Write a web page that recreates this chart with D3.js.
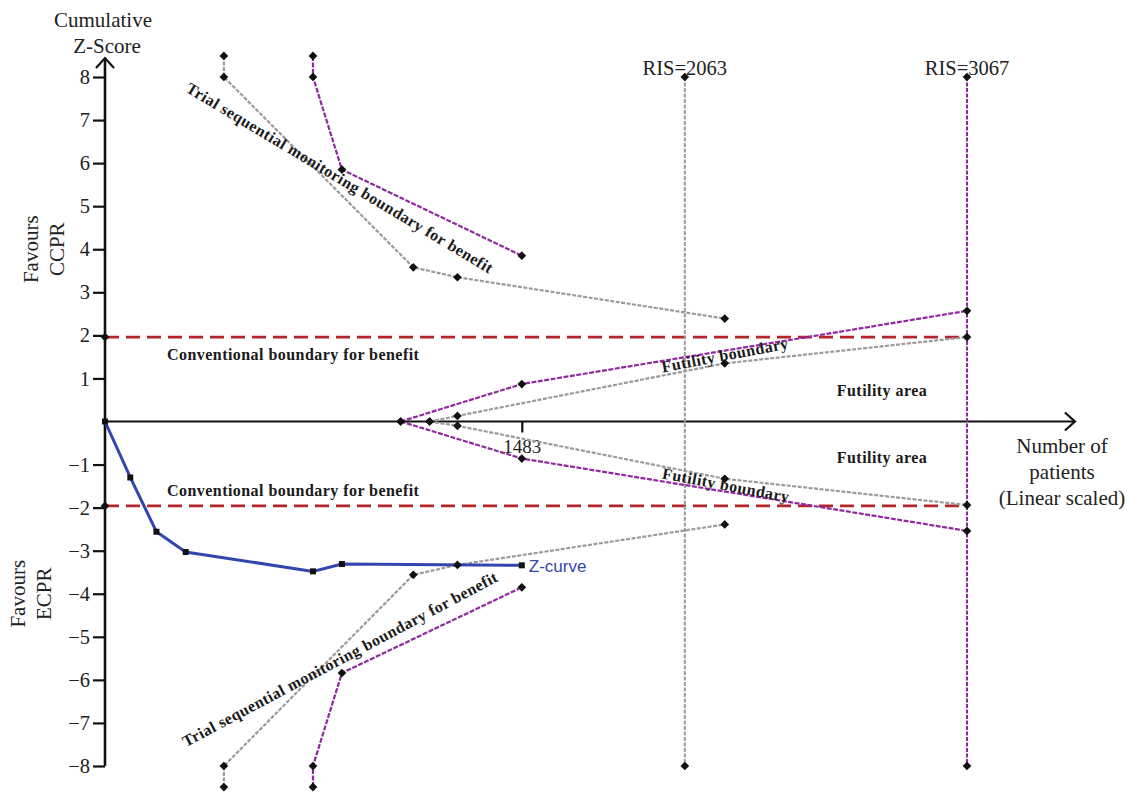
<!DOCTYPE html>
<html>
<head>
<meta charset="utf-8">
<script src="https://cdn.jsdelivr.net/npm/d3@7"></script>
<style>
  html, body { margin: 0; padding: 0; background: #fff; }
  svg { display: block; }
</style>
</head>
<body>
<svg id="chart" width="1130" height="796"></svg>
<script>
// ---------------- DATA ----------------
const yTickValues = [-8, -7, -6, -5, -4, -3, -2, -1, 1, 2, 3, 4, 5, 6, 7, 8];
const xTickValues = [1483];
const risValues = [2063, 3067];
const risLabels = ["RIS=2063", "RIS=3067"];
const conventionalZ = [1.96, -1.96];

// Z-curve [patients, z]
const zCurve = [[0, 0], [90, -1.30], [183, -2.56], [287, -3.03], [740, -3.48], [843, -3.31], [1483, -3.34]];

// Trial sequential monitoring boundaries (RIS 2063, grey)
const tsmbGreyUpper = [[423, 8.49], [423, 8.0], [1097, 3.58], [1254, 3.35], [2205, 2.39]];
const tsmbGreyLower = [[423, -8.49], [423, -8.0], [1097, -3.56], [1254, -3.33], [2205, -2.39]];
// Trial sequential monitoring boundaries (RIS 3067, purple)
const tsmbPurpleUpper = [[740, 8.49], [740, 8.0], [843, 5.85], [1483, 3.85]];
const tsmbPurpleLower = [[740, -8.49], [740, -8.0], [843, -5.84], [1483, -3.85]];

// Futility boundaries
const futPurpleUpper = [[1052, 0], [1483, 0.87], [3067, 2.57]];
const futPurpleLower = [[1052, 0], [1483, -0.86], [3067, -2.54]];
const futGreyUpper = [[1155, 0], [1254, 0.13], [2205, 1.35], [3067, 1.96]];
const futGreyLower = [[1155, 0], [1254, -0.10], [2205, -1.33], [3067, -1.94]];

// ---------------- LAYOUT ----------------
const svg = d3.select("#chart");
const x = d3.scaleLinear().domain([0, 3067]).range([105, 967]);
const y = d3.scaleLinear().domain([-8, 8]).range([766, 77]);
const xMaxArrow = 3451;
const yTopArrow = 8.44;

const GREY = "#9b9b9b";
const PURPLE = "#8f2a9e";
const RED = "#b3262a";
const BLUE = "#3346b0";
const SERIF = "'Liberation Serif', 'DejaVu Serif', serif";

// ---------------- AXES ----------------
const axisG = svg.append("g");
axisG.append("line")
  .attr("x1", x(0)).attr("x2", x(0))
  .attr("y1", y(-8)).attr("y2", y(yTopArrow))
  .attr("stroke", "#111").attr("stroke-width", 2.6);
axisG.append("line")
  .attr("x1", x(0)).attr("x2", x(xMaxArrow))
  .attr("y1", y(0)).attr("y2", y(0))
  .attr("stroke", "#111").attr("stroke-width", 2.2);
axisG.append("path")
  .attr("d", `M${x(0) - 9},${y(yTopArrow) + 10} L${x(0)},${y(yTopArrow)} L${x(0) + 9},${y(yTopArrow) + 10}`)
  .attr("fill", "none").attr("stroke", "#111").attr("stroke-width", 2.2);
axisG.append("path")
  .attr("d", `M${x(xMaxArrow) - 10},${y(0) - 9} L${x(xMaxArrow)},${y(0)} L${x(xMaxArrow) - 10},${y(0) + 9}`)
  .attr("fill", "none").attr("stroke", "#111").attr("stroke-width", 2.2);

const yAxis = d3.axisLeft(y).tickValues(yTickValues).tickSize(12).tickSizeOuter(0).tickPadding(3)
  .tickFormat(d3.format("d"));
const yAxisG = svg.append("g").attr("transform", `translate(${x(0)},0)`).call(yAxis);
yAxisG.select(".domain").remove();
yAxisG.selectAll(".tick line").attr("stroke", "#111").attr("stroke-width", 2.2);
yAxisG.selectAll(".tick text").attr("font-family", SERIF).attr("font-size", 20.5).attr("fill", "#222");

const xAxis = d3.axisBottom(x).tickValues(xTickValues).tickSize(11).tickPadding(7).tickFormat(d3.format("d"));
const xAxisG = svg.append("g").attr("transform", `translate(0,${y(0)})`).call(xAxis);
xAxisG.select(".domain").remove();
xAxisG.selectAll(".tick line").attr("stroke", "#111").attr("stroke-width", 2.2);
xAxisG.selectAll(".tick text").attr("font-family", SERIF).attr("font-size", 19).attr("fill", "#222");

const txt = (xx, yy, s, opts = {}) => svg.append("text")
  .attr("x", xx).attr("y", yy).text(s)
  .attr("font-family", opts.family || SERIF)
  .attr("font-size", opts.size || 21)
  .attr("font-weight", opts.weight || "normal")
  .attr("letter-spacing", opts.ls || 0)
  .attr("fill", opts.fill || "#222")
  .attr("text-anchor", opts.anchor || "middle")
  .attr("dominant-baseline", "central");

txt(103, 20, "Cumulative");
txt(107, 46, "Z-Score");
txt(1062, 446, "Number of");
txt(1062, 472, "patients");
txt(1062, 498, "(Linear scaled)");

function vlabel(cx, cy, s) {
  svg.append("text").attr("transform", `translate(${cx},${cy}) rotate(-90)`)
    .text(s).attr("font-family", SERIF).attr("font-size", 21).attr("fill", "#222")
    .attr("text-anchor", "middle").attr("dominant-baseline", "central");
}
vlabel(31, y(4), "Favours");
vlabel(57, y(4), "CCPR");
vlabel(18, y(-4), "Favours");
vlabel(44, y(-4), "ECPR");

// ---------------- LINES ----------------
const line = d3.line().x(d => x(d[0])).y(d => y(d[1]));
const diamond = d3.symbol().type(d3.symbolSquare).size(38);
const square = d3.symbol().type(d3.symbolSquare).size(36);

function drawLine(data, color, dash, width) {
  svg.append("path").datum(data).attr("d", line)
    .attr("fill", "none").attr("stroke", color).attr("stroke-width", width)
    .attr("stroke-dasharray", dash);
}
function drawDiamonds(data) {
  svg.append("g").selectAll("path").data(data).join("path")
    .attr("d", diamond)
    .attr("transform", d => `translate(${x(d[0])},${y(d[1])}) rotate(45)`)
    .attr("fill", "#111");
}

conventionalZ.forEach(z => {
  drawLine([[0, z], [3067, z]], RED, "14,7", 2.6);
});

drawLine([[risValues[0], 8], [risValues[0], -8]], GREY, "4,1.5", 2);
drawLine([[risValues[1], 8], [risValues[1], -8]], PURPLE, "4,1.5", 2);

[tsmbGreyUpper, tsmbGreyLower, futGreyUpper, futGreyLower].forEach(d => drawLine(d, GREY, "4,1.5", 2.2));
[tsmbPurpleUpper, tsmbPurpleLower, futPurpleUpper, futPurpleLower].forEach(d => drawLine(d, PURPLE, "5,1.5", 2.2));

drawLine(zCurve, BLUE, null, 3);

[tsmbGreyUpper, tsmbGreyLower, futGreyUpper, futGreyLower,
 tsmbPurpleUpper, tsmbPurpleLower, futPurpleUpper, futPurpleLower].forEach(drawDiamonds);
drawDiamonds(conventionalZ.map(z => [0, z]));
drawDiamonds(risValues.flatMap(r => [[r, 8], [r, -8]]));

svg.append("g").selectAll("path").data(zCurve).join("path")
  .attr("d", square)
  .attr("transform", d => `translate(${x(d[0])},${y(d[1])})`)
  .attr("fill", "#111");

risValues.forEach((r, i) => {
  txt(x(r), 68, risLabels[i], { size: 20.5 });
});

// ---------------- ANNOTATIONS ----------------
const BOLD = { size: 16, weight: "bold", family: "'Liberation Serif', 'Times New Roman', serif", fill: "#1a1a1a", ls: 0.45 };
txt(167, 354, "Conventional boundary for benefit", Object.assign({}, BOLD, { anchor: "start" }));
txt(167, 490, "Conventional boundary for benefit", Object.assign({}, BOLD, { anchor: "start" }));
txt(882, 390, "Futility area", BOLD);
txt(882, 457, "Futility area", BOLD);

function rlabel(cx, cy, ang, s) {
  svg.append("text").attr("transform", `translate(${cx},${cy}) rotate(${ang})`)
    .text(s).attr("font-family", BOLD.family).attr("font-size", 16).attr("font-weight", "bold")
    .attr("letter-spacing", 0.45)
    .attr("fill", "#1a1a1a").attr("text-anchor", "middle").attr("dominant-baseline", "central");
}
rlabel(340, 178, 31, "Trial sequential monitoring boundary for benefit");
rlabel(340, 659, -28, "Trial sequential monitoring boundary for benefit");
rlabel(725, 355, -10.8, "Futility boundary");
rlabel(726, 485, 10.7, "Futility boundary");

svg.append("text").attr("x", x(1483) + 7).attr("y", y(-3.34) + 1)
  .text("Z-curve").attr("font-family", "'Liberation Sans', Arial, sans-serif")
  .attr("font-size", 17).attr("fill", BLUE).attr("dominant-baseline", "central");
</script>
</body>
</html>
